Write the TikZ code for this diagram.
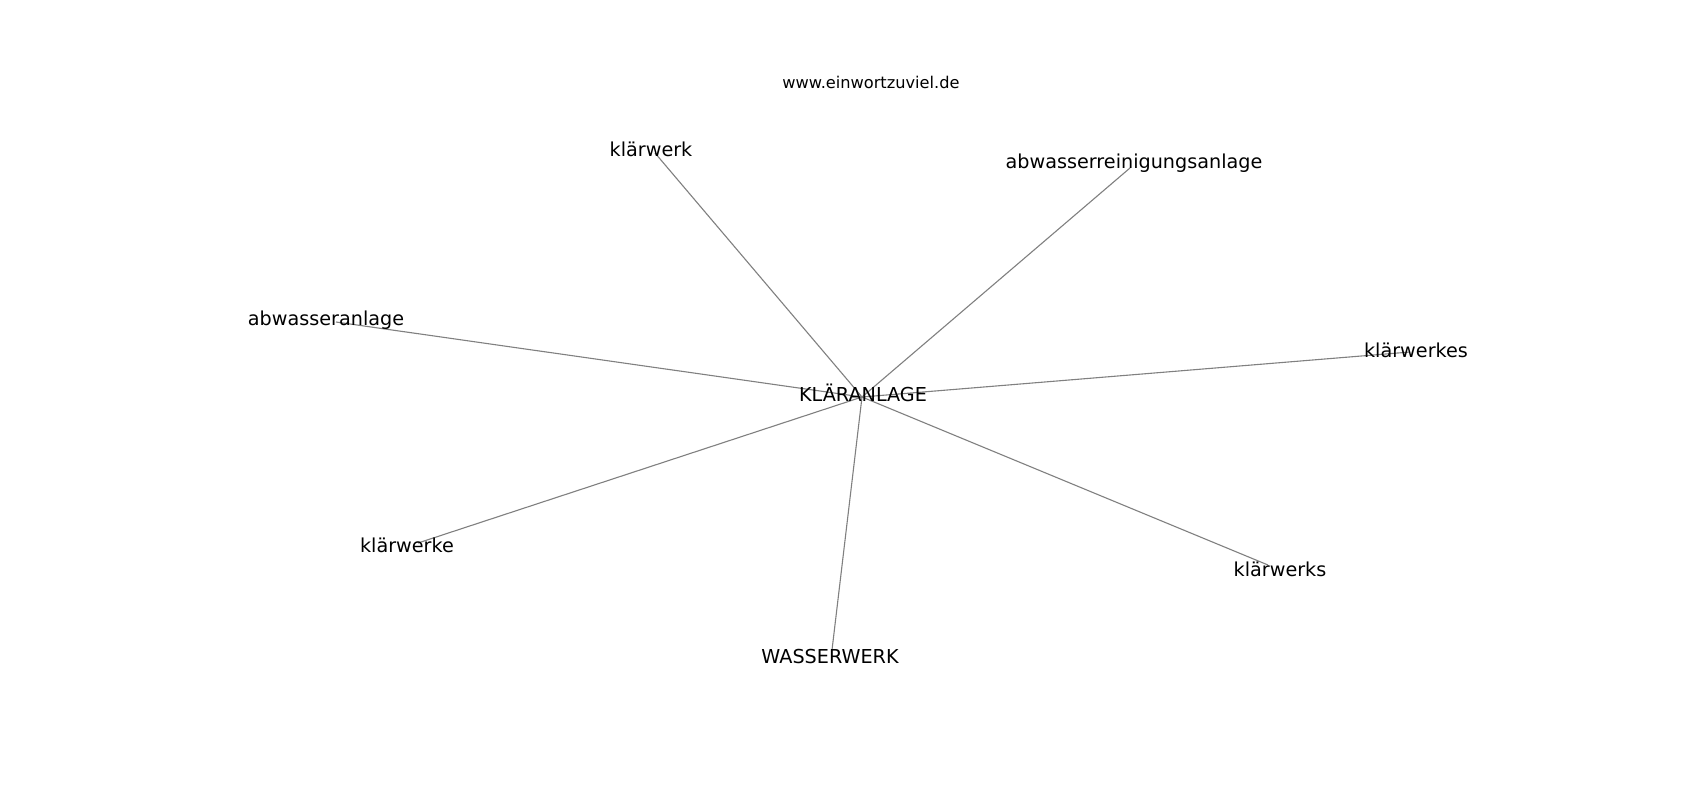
\documentclass[tikz,border=0pt]{standalone}
\usepackage{fontspec}
\setmainfont{DejaVu Sans}
\begin{document}
\begin{tikzpicture}[x=1pt,y=-1pt,
  lbl/.style={inner sep=0pt,font=\fontsize{19.2}{22}\selectfont},
  small/.style={inner sep=0pt,font=\fontsize{16.2}{19}\selectfont},
  edge/.style={draw=black!50,line width=1.1pt}]
\useasboundingbox[fill=white] (0,0) rectangle (1700,800);
% edge end points
\coordinate (c) at (862,397);
\coordinate (e1) at (655,153);
\coordinate (e2) at (1130,168);
\coordinate (e3) at (336,322);
\coordinate (e4) at (1410,352);
\coordinate (e5) at (418,543);
\coordinate (e6) at (1268,565);
\coordinate (e7) at (832,650);
% edges
\draw[edge] (c) -- (e1);
\draw[edge] (c) -- (e2);
\draw[edge] (c) -- (e3);
\draw[edge] (c) -- (e4);
\draw[edge] (c) -- (e5);
\draw[edge] (c) -- (e6);
\draw[edge] (c) -- (e7);
% labels
\node[small] (www) at (871,82) {www.einwortzuviel.de};
\node[lbl] (center) at (863,393) {KLÄRANLAGE};
\node[lbl] (n1) at (651,149) {klärwerk};
\node[lbl] (n2) at (1134,163) {abwasserreinigungsanlage};
\node[lbl] (n3) at (326,320) {abwasseranlage};
\node[lbl] (n4) at (1416,350) {klärwerkes};
\node[lbl] (n5) at (407,545) {klärwerke};
\node[lbl] (n6) at (1280,569) {klärwerks};
\node[lbl] (n7) at (830,657) {WASSERWERK};
\end{tikzpicture}
\end{document}
